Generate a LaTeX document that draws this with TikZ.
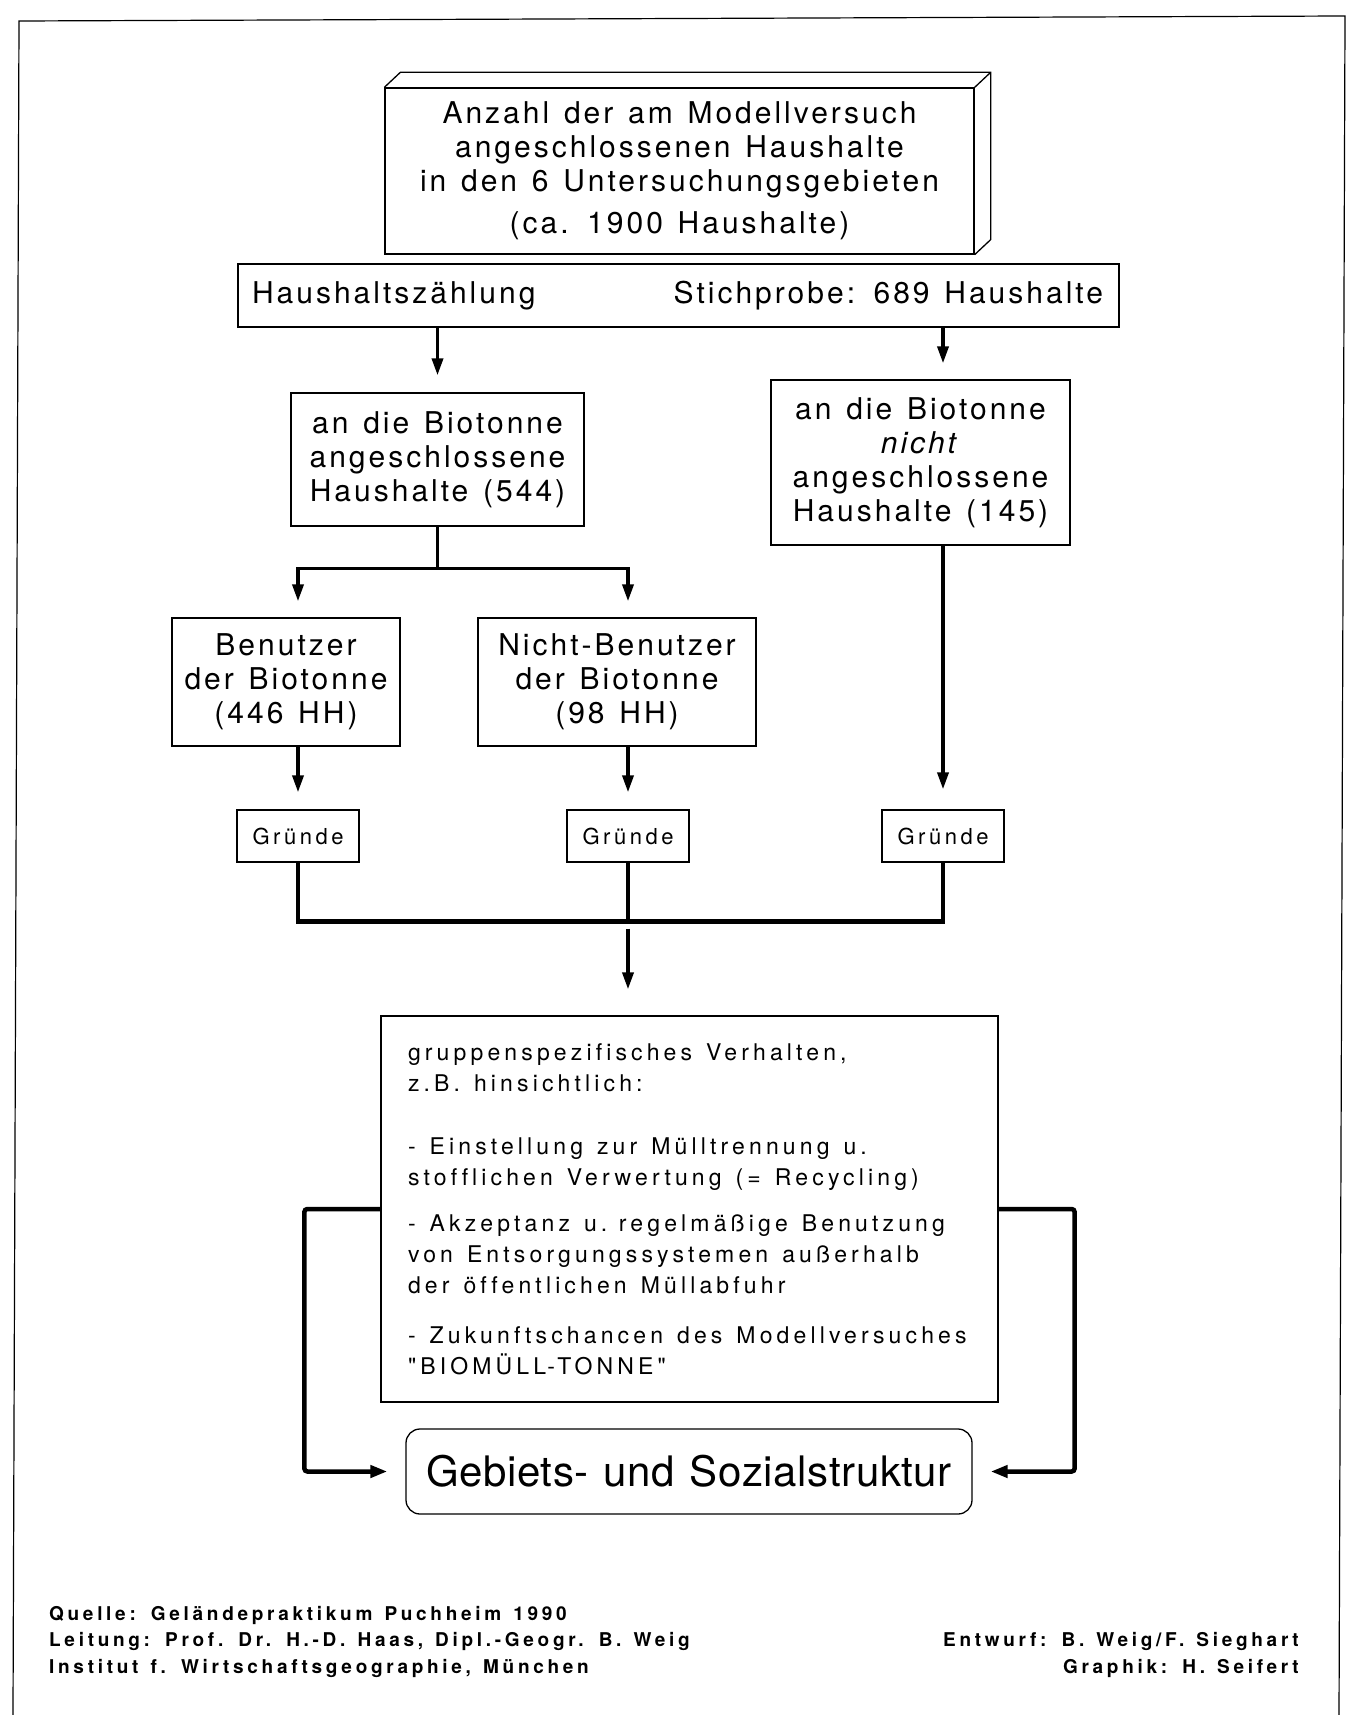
\documentclass[tikz,border=0pt]{standalone}
\usepackage{fontspec}
\setmainfont{TeX Gyre Heros}
\newfontfamily\boxfont[LetterSpace=10, WordSpace=1.3, Ligatures=NoCommon]{TeX Gyre Heros}
\newfontfamily\listfont[LetterSpace=18, Ligatures=NoCommon]{TeX Gyre Heros}
\newfontfamily\reasonfont[LetterSpace=16, Ligatures=NoCommon]{TeX Gyre Heros}
\newfontfamily\titlefont[LetterSpace=1.5, WordSpace=1.2]{TeX Gyre Heros}
\newfontfamily\footfont[LetterSpace=19.5, WordSpace=1.35, Ligatures=NoCommon]{TeX Gyre Heros}
\usetikzlibrary{arrows.meta,positioning}

\begin{document}
\begin{tikzpicture}[x=1pt, y=-1pt,
  box/.style={draw, line width=1.3pt, align=center, inner sep=0pt, font=\boxfont\fontsize{30}{34}\selectfont},
  reason/.style={draw, line width=1.3pt, inner sep=0pt, minimum width=122pt, minimum height=52pt, font=\reasonfont\fontsize{22}{26}\selectfont},
  arr/.style={line width=3.5pt, -{Triangle[length=17pt, width=11pt]}},
  link/.style={line width=4.5pt},
  feed/.style={line width=4.5pt, rounded corners=3pt, shorten >=18pt, -{Triangle[length=17pt, width=12pt]}},
  foot/.style={inner sep=0pt, font=\footfont\bfseries\fontsize{19}{22}\selectfont}]
\useasboundingbox (0,0) rectangle (1349,1715);
\draw[line width=1.2pt] (13,1715) -- (19,21) -- (1345,16) -- (1339,1715);

\node[box, minimum width=589pt, minimum height=166pt] (total) at (679.5,171) {Anzahl der am Modellversuch\\angeschlossenen Haushalte\\in den 6 Untersuchungsgebieten\\[8pt](ca. 1900 Haushalte)};
\draw[line width=1.3pt] (total.north west) -- ++(16,-15) -- ([shift={(16,-15)}]total.north east) -- ([shift={(16,-15)}]total.south east) -- (total.south east)
  (total.north east) -- ++(16,-15);

\node[box, minimum width=881pt, minimum height=63pt] (count) at (678.5,295.5) {};
\node[box, draw=none, anchor=west] (census) at ([xshift=14pt]count.west) {Haushaltszählung};
\node[box, draw=none, anchor=east] (sample) at ([xshift=-16pt]count.east) {Stichprobe: 689 Haushalte};

\node[box, minimum width=293pt, minimum height=133pt] (conn) at (437.5,459.5) {an die Biotonne\\angeschlossene\\Haushalte (544)};
\node[box, minimum width=299pt, minimum height=165pt] (notconn) at (920.5,462.5) {an die Biotonne\\\textit{nicht}\\angeschlossene\\Haushalte (145)};

\node[box, minimum width=228pt, minimum height=128pt] (users) at (286,682) {Benutzer\\der Biotonne\\(446 HH)};
\node[box, minimum width=278pt, minimum height=128pt] (nonusers) at (617,682) {Nicht-Benutzer\\der Biotonne\\(98 HH)};

\node[reason] (reasonA) at (298,836) {Gründe};
\node[reason] (reasonB) at (628,836) {Gründe};
\node[reason] (reasonC) at (943,836) {Gründe};

\node[draw, line width=1.3pt, minimum height=386pt, inner xsep=27pt, inner ysep=0pt, text width=563pt, align=left, font=\listfont\fontsize{23}{31}\selectfont] (behav) at (689.5,1209) {\spaceskip=14pt plus 2pt\relax gruppenspezifisches Verhalten,\\z.B. hinsichtlich:\\[32pt]- Einstellung zur Mülltrennung u.\\stofflichen Verwertung (= Recycling)\\[15pt]- Akzeptanz u. regelmäßige Benutzung\\von Entsorgungssystemen außerhalb\\der öffentlichen Müllabfuhr\\[19pt]- Zukunftschancen des Modellversuches\\"BIOMÜLL-TONNE"};

\node[draw, line width=1.3pt, rounded corners=14pt, minimum width=566pt, minimum height=85pt, font=\titlefont\fontsize{42}{48}\selectfont] (struct) at (689,1471.5) {Gebiets- und Sozialstruktur};

\draw[arr, shorten >=17pt] (count.south -| conn.north) -- (conn.north);
\draw[arr, shorten >=16pt] (count.south -| reasonC) -- (notconn.north -| reasonC);
\draw[arr, shorten >=16pt] (conn.south) -- ++(0,42) -| (users.north -| reasonA);
\draw[arr, shorten >=16pt] (conn.south) -- ++(0,42) -| (nonusers.north -| reasonB);
\draw[arr, shorten >=17pt] (users.south -| reasonA) -- (reasonA.north);
\draw[arr, shorten >=17pt] (nonusers.south -| reasonB) -- (reasonB.north);
\draw[arr, shorten >=20pt] (notconn.south -| reasonC) -- (reasonC.north);
\draw[link] (reasonA.south) -- ++(0,59) -| (reasonC.south);
\draw[line width=3.5pt] (reasonB.south) -- ++(0,59);
\draw[arr, shorten >=26pt] (reasonB.south) ++(0,66) -- (behav.north -| reasonB);
\draw[feed] (behav.west) -- ++(-76,0) |- (struct.west);
\draw[feed] (behav.east) -- ++(76,0) |- (struct.east);

\node[foot, anchor=west] (source) at (49,1615) {Quelle: Geländepraktikum Puchheim 1990};
\node[foot, anchor=west] (lead) at (49,1641) {Leitung: Prof. Dr. H.-D. Haas, Dipl.-Geogr. B. Weig};
\node[foot, anchor=west] (inst) at (49,1668) {Institut f. Wirtschaftsgeographie, München};
\node[foot, anchor=east] (design) at (1299,1641) {Entwurf: B. Weig/F. Sieghart};
\node[foot, anchor=east] (graphic) at (1299,1668) {Graphik: H. Seifert};
\end{tikzpicture}
\end{document}
